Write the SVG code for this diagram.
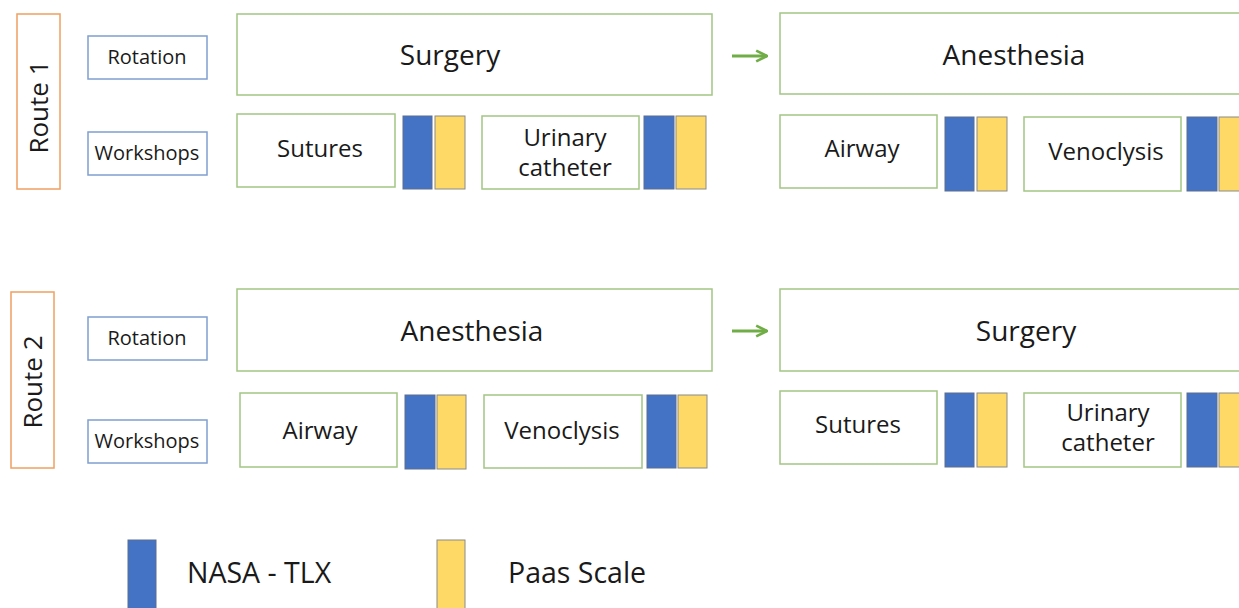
<svg xmlns="http://www.w3.org/2000/svg" width="1239" height="608" viewBox="0 0 1239 608">
<style>
text{font-family:"Open Sans","Liberation Sans",sans-serif;fill:#1a1a1a;text-anchor:middle}
.route{fill:#fff;stroke:#f0a060;stroke-width:1.5}
.lab{fill:#fff;stroke:#7f9fcf;stroke-width:1.5}
.box{fill:#fff;stroke:#a3c585;stroke-width:1.5}
.nasa{fill:#4472c4;stroke:#5a6f90;stroke-width:1}
.paas{fill:#ffd966;stroke:#8a8a8a;stroke-width:1}
.big{font-size:28px}
.mid{font-size:24px}
.sm{font-size:20px}
.rt{font-size:26px}
.leg{font-size:28.5px;text-anchor:start}
.conn{stroke:#70ad47;stroke-width:3;fill:none}
</style>
<defs>
<marker id="ah" viewBox="0 0 10 10" refX="9" refY="5" markerWidth="4.5" markerHeight="4.5" orient="auto" markerUnits="strokeWidth">
<path d="M1,1 L9,5 L1,9" fill="none" stroke="#70ad47" stroke-width="2"/>
</marker>
</defs>

<g id="route1">
<rect class="route" x="17" y="14" width="43" height="175"/>
<text class="rt" transform="translate(48,107) rotate(-90)">Route 1</text>
</g>
<g id="r1-rotation"><rect class="lab" x="88" y="36" width="119" height="43"/><text class="sm" x="147" y="64">Rotation</text></g>
<g id="r1-workshops"><rect class="lab" x="88" y="132" width="119" height="43"/><text class="sm" x="147" y="160">Workshops</text></g>
<g id="r1-surgery"><rect class="box" x="237" y="14" width="475" height="81"/><text class="big" x="450" y="65">Surgery</text></g>
<g id="r1-anesthesia"><rect class="box" x="780" y="13" width="470" height="81"/><text class="big" x="1014" y="65">Anesthesia</text></g>
<g id="r1-sutures"><rect class="box" x="237" y="114" width="158" height="73"/><text class="mid" x="320" y="157">Sutures</text>
<rect class="nasa" x="403" y="116" width="29" height="73"/><rect class="paas" x="435" y="116" width="30" height="73"/></g>
<g id="r1-urinary"><rect class="box" x="482" y="116" width="157" height="73"/><text class="mid" x="565" y="146">Urinary</text><text class="mid" x="565" y="176">catheter</text>
<rect class="nasa" x="644" y="116" width="30" height="73"/><rect class="paas" x="676" y="116" width="30" height="73"/></g>
<g id="r1-airway"><rect class="box" x="780" y="115" width="157" height="73"/><text class="mid" x="862" y="157">Airway</text>
<rect class="nasa" x="945" y="117" width="29" height="74"/><rect class="paas" x="977" y="117" width="30" height="74"/></g>
<g id="r1-venoclysis"><rect class="box" x="1024" y="117" width="157" height="74"/><text class="mid" x="1106" y="160">Venoclysis</text>
<rect class="nasa" x="1187" y="117" width="30" height="74"/><rect class="paas" x="1219" y="117" width="30" height="74"/></g>

<g id="route2">
<rect class="route" x="11" y="292" width="43" height="176"/>
<text class="rt" transform="translate(42,382) rotate(-90)">Route 2</text>
</g>
<g id="r2-rotation"><rect class="lab" x="88" y="317" width="119" height="43"/><text class="sm" x="147" y="345">Rotation</text></g>
<g id="r2-workshops"><rect class="lab" x="88" y="420" width="119" height="43"/><text class="sm" x="147" y="448">Workshops</text></g>
<g id="r2-anesthesia"><rect class="box" x="237" y="289" width="475" height="82"/><text class="big" x="472" y="341">Anesthesia</text></g>
<g id="r2-surgery"><rect class="box" x="780" y="289" width="470" height="82"/><text class="big" x="1026" y="341">Surgery</text></g>
<g id="r2-airway"><rect class="box" x="240" y="393" width="157" height="74"/><text class="mid" x="320" y="439">Airway</text>
<rect class="nasa" x="405" y="395" width="30" height="74"/><rect class="paas" x="437" y="395" width="29" height="74"/></g>
<g id="r2-venoclysis"><rect class="box" x="484" y="395" width="158" height="73"/><text class="mid" x="562" y="439">Venoclysis</text>
<rect class="nasa" x="647" y="395" width="29" height="73"/><rect class="paas" x="678" y="395" width="29" height="73"/></g>
<g id="r2-sutures"><rect class="box" x="780" y="391" width="157" height="73"/><text class="mid" x="858" y="433">Sutures</text>
<rect class="nasa" x="945" y="393" width="29" height="74"/><rect class="paas" x="977" y="393" width="30" height="74"/></g>
<g id="r2-urinary"><rect class="box" x="1024" y="393" width="157" height="74"/><text class="mid" x="1108" y="421">Urinary</text><text class="mid" x="1108" y="451">catheter</text>
<rect class="nasa" x="1187" y="393" width="30" height="74"/><rect class="paas" x="1219" y="393" width="30" height="74"/></g>

<g id="connectors">
<line class="conn" x1="732" y1="56" x2="767" y2="56" marker-end="url(#ah)"/>
<line class="conn" x1="732" y1="331" x2="767" y2="331" marker-end="url(#ah)"/>
</g>

<g id="legend">
<rect class="nasa" x="128" y="540" width="28" height="75"/>
<text class="leg" x="187" y="583">NASA - TLX</text>
<rect class="paas" x="437" y="540" width="28" height="75"/>
<text class="leg" x="508" y="583">Paas Scale</text>
</g>
</svg>
